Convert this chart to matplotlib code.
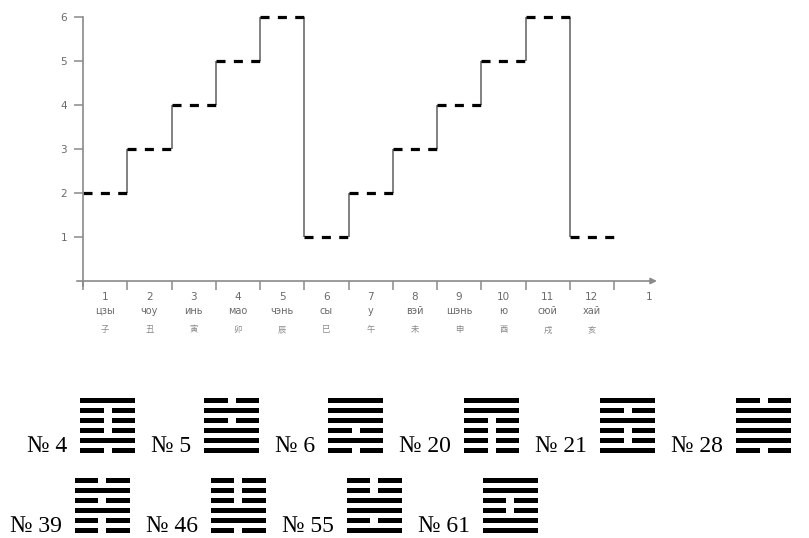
import matplotlib
matplotlib.use("Agg")
import matplotlib.pyplot as plt
from matplotlib.patches import Rectangle

plt.rcParams['lines.scale_dashes'] = False

# step values for the 12 two-hour periods
values = [2, 3, 4, 5, 6, 1, 2, 3, 4, 5, 6, 1]
hour_nums = ['1', '2', '3', '4', '5', '6', '7', '8', '9', '10', '11', '12']
branch_ru = ['цзы', 'чоу', 'инь', 'мао', 'чэнь', 'сы',
             'у', 'вэй', 'шэнь', 'ю', 'сюй', 'хай']
branch_zh = ['子', '丑', '寅', '卯', '辰', '巳', '午', '未', '申', '酉', '戌', '亥']
y_labels = ['1', '2', '3', '4', '5', '6']
next_label = '1'

# hexagrams, lines read top to bottom (1 = solid, 0 = broken)
hex_row1_nums = [4, 5, 6, 20, 21, 28]
hex_row1_lines = ['100010', '010111', '111010', '110000', '101001', '011110']
hex_row2_nums = [39, 46, 55, 61]
hex_row2_lines = ['010100', '000110', '001101', '110011']

W, H = 809, 538
axc = '#8a8a8a'
txtc = '#6a6a6a'

fig = plt.figure(figsize=(W / 100, H / 100), dpi=100)

# chart axes: x 0..12 spans px 83..614, y 0..6 spans px 281..17
ax = fig.add_axes([83 / W, (H - 281) / H, (614 - 83) / W, (281 - 17) / H])
ax.set_xlim(0, 12)
ax.set_ylim(0, 6)
for s in ['top', 'right', 'bottom']:
    ax.spines[s].set_visible(False)
ax.spines['left'].set_bounds(-0.12, 6)
ax.spines['left'].set_color(axc)
ax.spines['left'].set_linewidth(1.2)

ax.set_yticks(range(1, 7))
ax.set_yticklabels(y_labels)
ax.tick_params(axis='y', direction='out', length=6.5, width=1.1, color=axc,
               labelcolor=txtc, labelsize=7.5, pad=5)
ax.set_xticks(range(13))
ax.tick_params(axis='x', direction='out', length=6.5, width=1.1, color=axc,
               labelbottom=False)

# x axis with arrow
ax.annotate('', xy=(12.97, 0), xytext=(-0.14, 0),
            arrowprops=dict(arrowstyle='-|>', color=axc, lw=1.2,
                            mutation_scale=9, shrinkA=0, shrinkB=0),
            annotation_clip=False)

# step function: dashed levels, solid grey risers
n = len(values)
ax.vlines(range(1, n), values[:-1], values[1:], colors='#777777',
          linewidth=1.3, clip_on=False)
ax.hlines(values, range(n), range(1, n + 1), colors='black', linewidth=2.3,
          linestyles=[(0, (6.5, 6.0))], clip_on=False)

# period labels
for i in range(n):
    ax.text(i + 0.5, -0.36, hour_nums[i], ha='center', va='center',
            fontsize=7.5, color=txtc)
    ax.text(i + 0.5, -0.68, branch_ru[i], ha='center', va='center',
            fontsize=7, color=txtc)
    ax.text(i + 0.5, -1.11, branch_zh[i], ha='center', va='center',
            fontsize=6, color='#888888', family=['Noto Sans CJK SC', 'DejaVu Sans'])
ax.text(12.8, -0.36, next_label, ha='center', va='center', fontsize=7.5, color=txtc)

# overlay in pixel coordinates for the hexagram rows
ov = fig.add_axes([0, 0, 1, 1], zorder=-1)
ov.set_xlim(0, W)
ov.set_ylim(H, 0)
ov.axis('off')
renderer = fig.canvas.get_renderer()

hex_w, bar_h, step, gap = 55, 5, 9.9, 8


def draw_hexagram(x, y_top, lines):
    for k, c in enumerate(lines):
        y = y_top + k * step
        if c == '1':
            ov.add_patch(Rectangle((x, y), hex_w, bar_h, color='black', lw=0))
        else:
            half = (hex_w - gap) / 2
            ov.add_patch(Rectangle((x, y), half, bar_h, color='black', lw=0))
            ov.add_patch(Rectangle((x + half + gap, y), half, bar_h, color='black', lw=0))


def draw_row(x0, y_top, nums, lines):
    x = x0
    base = y_top + 5 * step + bar_h - 1
    for num, ln in zip(nums, lines):
        t = ov.text(x, base, '№ %d' % num, ha='left', va='baseline',
                    fontsize=17, family='Liberation Serif', color='black')
        w = t.get_window_extent(renderer).width
        x += w + 13
        draw_hexagram(x, y_top, ln)
        x += hex_w + 16


draw_row(27, 398, hex_row1_nums, hex_row1_lines)
draw_row(10, 478, hex_row2_nums, hex_row2_lines)

fig.savefig('out.png', dpi=100)
